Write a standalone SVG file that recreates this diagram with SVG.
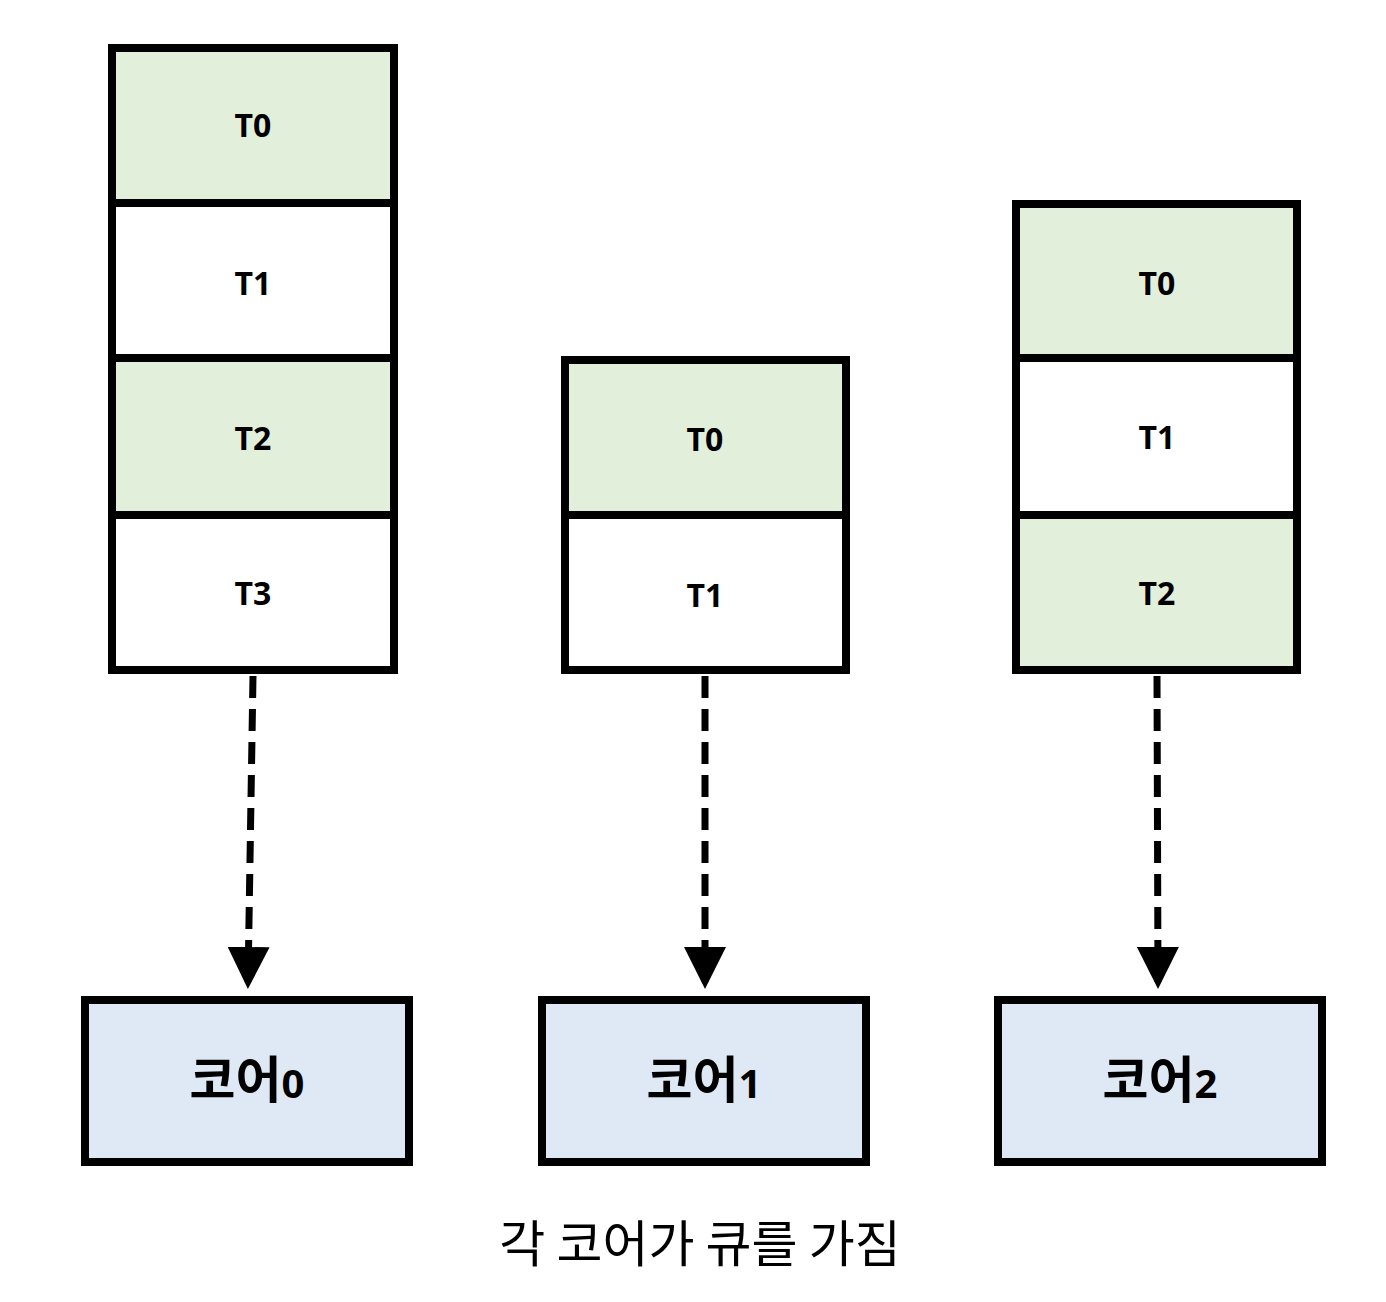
<svg xmlns="http://www.w3.org/2000/svg" width="1386" height="1302" viewBox="0 0 1386 1302">
<style>
.c{stroke:#000;stroke-width:8}
.g{fill:#e2efda}.w{fill:#fff}.b{fill:#dee9f5}
.t{font-family:"Open Sans","Liberation Sans","Noto Sans CJK KR",sans-serif;font-weight:bold;font-size:32px;text-anchor:middle;fill:#000}
.k{font-family:"Noto Sans CJK KR",sans-serif;font-weight:bold;font-size:50px;text-anchor:middle}
.d{font-family:"Open Sans","Liberation Sans",sans-serif;font-size:40px}
.cap{font-family:"Noto Sans CJK KR",sans-serif;font-size:50px;text-anchor:middle}
.a{stroke:#000;stroke-width:7;stroke-dasharray:22 11;fill:none}
</style>
<defs><marker id="ah" markerWidth="6" markerHeight="6" refX="5" refY="3" orient="auto" markerUnits="strokeWidth"><path d="M0,0L6,3L0,6z" fill="#000"/></marker></defs>
<g id="q0">
<rect class="c g" x="112" y="48" width="282" height="155"/><text class="t" x="253" y="137">T0</text>
<rect class="c w" x="112" y="203" width="282" height="155"/><text class="t" x="253" y="295">T1</text>
<rect class="c g" x="112" y="358" width="282" height="157"/><text class="t" x="253" y="450">T2</text>
<rect class="c w" x="112" y="515" width="282" height="155"/><text class="t" x="253" y="605">T3</text>
</g>
<g id="q1">
<rect class="c g" x="565" y="360" width="281" height="155"/><text class="t" x="705" y="451">T0</text>
<rect class="c w" x="565" y="515" width="281" height="155"/><text class="t" x="705" y="607">T1</text>
</g>
<g id="q2">
<rect class="c g" x="1016" y="204" width="281" height="154"/><text class="t" x="1157" y="295">T0</text>
<rect class="c w" x="1016" y="358" width="281" height="157"/><text class="t" x="1157" y="449">T1</text>
<rect class="c g" x="1016" y="515" width="281" height="155"/><text class="t" x="1157" y="605">T2</text>
</g>
<g id="connectors">
<path class="a" d="M253,676L248,982" marker-end="url(#ah)"/>
<path class="a" d="M705,676L705,982" marker-end="url(#ah)"/>
<path class="a" d="M1157,676L1158,982" marker-end="url(#ah)"/>
</g>
<g id="core0"><rect class="c b" x="85" y="1000" width="324" height="162"/><text class="k" x="247" y="1098">코어<tspan class="d">0</tspan></text></g>
<g id="core1"><rect class="c b" x="542" y="1000" width="324" height="162"/><text class="k" x="704" y="1098">코어<tspan class="d">1</tspan></text></g>
<g id="core2"><rect class="c b" x="998" y="1000" width="324" height="162"/><text class="k" x="1160" y="1098">코어<tspan class="d">2</tspan></text></g>
<text class="cap" x="700" y="1262">각 코어가 큐를 가짐</text>
</svg>
